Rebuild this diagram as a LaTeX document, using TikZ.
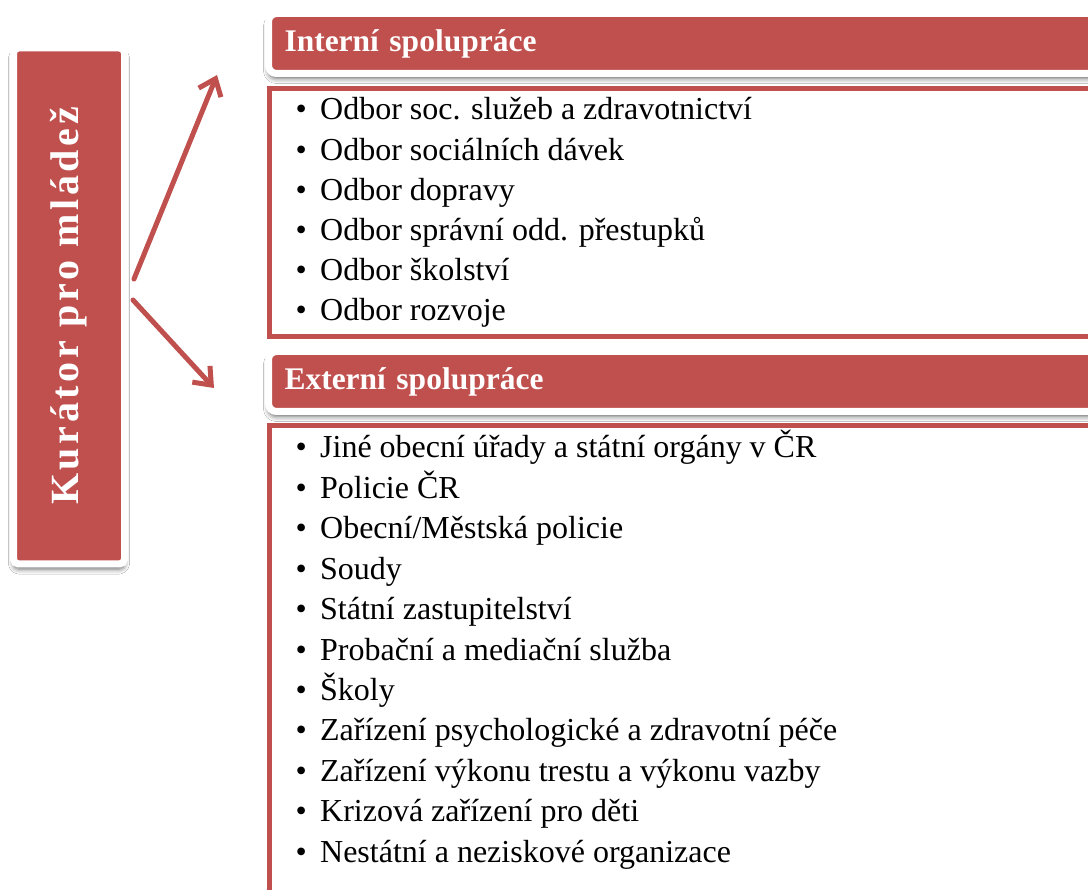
\documentclass[tikz,border=0pt]{standalone}
\usepackage{fontspec}
\setmainfont{Liberation Serif}
\newfontfamily\kurfamily[LetterSpace=9]{Liberation Serif}
\usetikzlibrary{shadows.blur, arrows.meta}
\definecolor{kured}{HTML}{C0504D}
\newcommand{\itemfont}{\fontsize{32}{40}\selectfont}
\newcommand{\headfont}{\fontsize{31.5}{38}\selectfont\bfseries}
\newcommand{\kurfont}{\fontsize{40}{48}\selectfont\kurfamily\bfseries}

\begin{document}
\begin{tikzpicture}[
                x=1pt, y=-1pt, % pixel units, y runs downwards
                softshadow/.style={blur shadow={shadow xshift=0pt, shadow yshift=-5pt, shadow blur radius=5pt, shadow opacity=60}}, % shadow under the red boxes
                kurbox/.style={rectangle, fill=kured, draw=white, line width=7pt, rounded corners=5pt, inner sep=0pt, minimum width=111pt, minimum height=516pt, text=white, font=\kurfont, softshadow}, % big vertical box
                headbox/.style={rectangle, fill=kured, draw=white, line width=7pt, rounded corners=8pt, text=white, font=\headfont, text width=830pt, align=left, inner xsep=16pt, minimum height=60pt, anchor=west, softshadow}, % section headers
                listbox/.style={rectangle, draw=kured, line width=5pt, anchor=north west, minimum width=850pt}, % frames round the lists
                itemtext/.style={anchor=base west, inner sep=0pt, font=\itemfont}, % list entries
                arrowline/.style={draw=kured, line width=5pt, line cap=round, -{Straight Barb[length=15pt, width=24pt]}} % connectors
                ]
                \clip (0,0) rectangle (1088,890);
                \fill[white] (0,0) rectangle (1088,890);

                \node[kurbox] (kur) at (69,306) {\rotatebox{90}{Kurátor pro mládež}};

                \node[listbox, minimum height=248pt] (intbox) at (267,86) {};
                \node[listbox, minimum height=495pt] (extbox) at (267,423) {};

                \node[headbox] (intern) at (265,43.5) {Interní spolupráce};
                \node[headbox] (extern) at (265,381.5) {Externí spolupráce};

                \foreach \txt [count=\i from 0] in {Odbor soc. služeb a zdravotnictví, Odbor sociálních dávek, Odbor dopravy, Odbor správní odd. přestupků, Odbor školství, Odbor rozvoje}
                   \node[itemtext] (int\i) at (295.4,120+40.2*\i) {\makebox[24.6pt][l]{\textbullet}\txt};

                \foreach \txt [count=\i from 0] in {Jiné obecní úřady a státní orgány v ČR, Policie ČR, Obecní/Městská policie, Soudy, Státní zastupitelství, Probační a mediační služba, Školy, Zařízení psychologické a zdravotní péče, Zařízení výkonu trestu a výkonu vazby, Krizová zařízení pro děti, Nestátní a neziskové organizace}
                   \node[itemtext] (ext\i) at (295.4,458+40.4*\i) {\makebox[24.6pt][l]{\textbullet}\txt};

                \coordinate (upstart) at ([shift={(6,-27)}]kur.east);
                \coordinate (downstart) at ([shift={(5,-6)}]kur.east);
                \coordinate (upend) at ([shift={(-48,31.5)}]intern.west);
                \coordinate (downend) at ([shift={(-51,6.5)}]extern.west);
                \draw[arrowline] (upstart) -- (upend);
                \draw[arrowline] (downstart) -- (downend);
            \end{tikzpicture}
\end{document}
